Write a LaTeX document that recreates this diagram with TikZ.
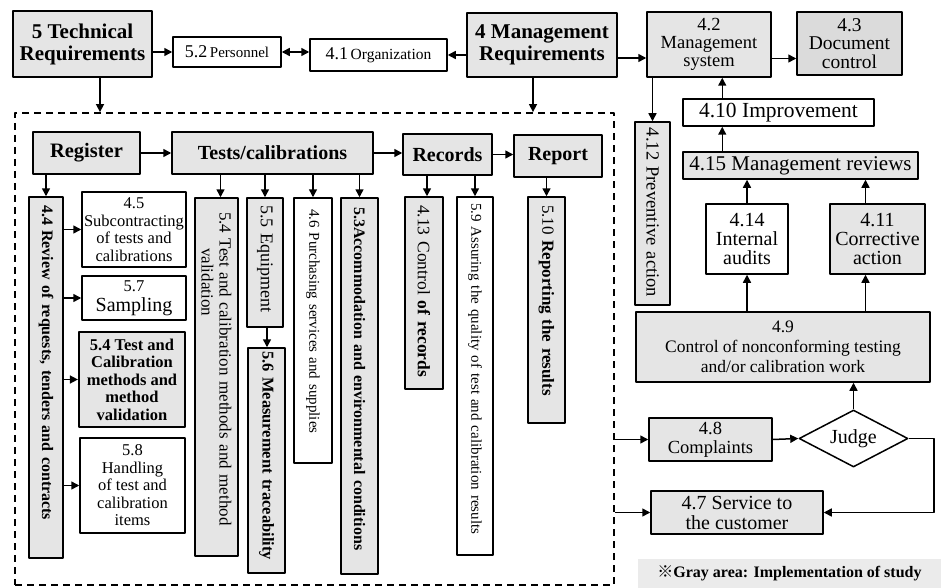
\documentclass[tikz,border=0pt]{standalone}
\usepackage{fontspec}
\setmainfont{Liberation Serif}
\newfontfamily\cjk{Noto Sans CJK SC}
\usetikzlibrary{arrows.meta,shapes.geometric}
\definecolor{boxgray}{gray}{0.9}
\definecolor{docgray}{gray}{0.86}
\definecolor{notegray}{gray}{0.92}
\newcommand{\fsz}[2]{\fontsize{#1}{#2}\selectfont}
\begin{document}
\begin{tikzpicture}[x=1pt,y=-1pt,line join=round,>={Triangle[length=8pt,width=8pt]},
	box/.style={draw,line width=1.5pt,inner sep=1pt,align=center},
	gbox/.style={box,fill=boxgray},
	wbox/.style={box,fill=white},
	vbox/.style={rotate=-90,align=left,inner xsep=8pt,inner ysep=1pt},
	link/.style={->,line width=1.5pt}]
	\useasboundingbox (0,0) rectangle (941,588);
	\node[draw,line width=1.8pt,dash pattern=on 7pt off 5pt,minimum width=599pt,minimum height=472pt,inner sep=0pt] (lab) at (314.5,349) {};
	% top row
	\node[gbox,minimum width=139pt,minimum height=66pt,font=\fsz{21}{22}\bfseries] (tech) at (82.5,44) {5 Technical\\Requirements};
	\node[wbox,minimum width=108pt,minimum height=30pt] (pers) at (227,52) {{\fsz{18}{19}5.2} {\fsz{15}{16}Personnel}};
	\node[wbox,minimum width=137pt,minimum height=32pt] (org) at (378.5,55) {{\fsz{18}{19}4.1} {\fsz{15.5}{16}Organization}};
	\node[gbox,minimum width=150pt,minimum height=64pt,font=\fsz{21}{22}\bfseries] (mgmt) at (542,45) {4 Management\\Requirements};
	\node[gbox,minimum width=124pt,minimum height=65pt,font=\fsz{18.5}{18}] (msys) at (709,44.5) {4.2\\Management\\system};
	\node[box,fill=docgray,minimum width=105pt,minimum height=63pt,font=\fsz{19.5}{18.5}] (doc) at (849.5,43.5) {4.3\\Document\\control};
	% management side
	\node[wbox,minimum width=191pt,minimum height=27pt,font=\fsz{21.5}{21}] (impr) at (778.5,112.5) {4.10 Improvement};
	\node[gbox,vbox,inner xsep=6pt,minimum width=183pt,minimum height=35pt,text width=171pt,font=\fsz{18.5}{19}] (prev) at (652.5,213.5) {4.12 Preventive action};
	\node[gbox,minimum width=235pt,minimum height=27pt,font=\fsz{21}{21}] (mrev) at (800.5,165.5) {4.15 Management reviews};
	\node[wbox,minimum width=82pt,minimum height=70pt,font=\fsz{20}{19}] (audit) at (747,239) {4.14\\Internal\\audits};
	\node[gbox,minimum width=95pt,minimum height=70pt,font=\fsz{20}{19}] (corr) at (877.5,239) {4.11\\Corrective\\action};
	\node[gbox,minimum width=294pt,minimum height=70pt,font=\fsz{17.5}{20}] (ncw) at (783,347) {4.9\\Control of nonconforming testing\\and/or calibration work};
	\node[gbox,minimum width=123pt,minimum height=43pt,font=\fsz{18.5}{19}] (compl) at (710.5,439.5) {4.8\\Complaints};
	\node[draw,line width=1.5pt,fill=white,diamond,aspect=1.9,inner sep=0pt,minimum width=109pt,minimum height=57pt,font=\fsz{20}{20}] (judge) at (853.5,438.5) {Judge};
	\node[gbox,minimum width=172pt,minimum height=43pt,font=\fsz{20}{20}] (serv) at (737,512.5) {4.7 Service to\\the customer};
	\node[fill=notegray,minimum width=303pt,minimum height=29pt,inner sep=0pt,font=\fsz{16}{16}\bfseries] (note) at (789.5,573.5) {{\cjk ※}Gray area: Implementation of study};
	% laboratory flow
	\node[gbox,minimum width=107pt,minimum height=42pt,font=\fsz{20.5}{21}\bfseries] (reg) at (86.5,153) {Register};
	\node[gbox,minimum width=201pt,minimum height=42pt,font=\fsz{20}{21}\bfseries] (tests) at (272.5,153) {Tests/calibrations};
	\node[gbox,minimum width=89pt,minimum height=41pt,font=\fsz{20}{21}\bfseries] (rec) at (447.5,154.5) {Records};
	\node[gbox,minimum width=88pt,minimum height=42pt,font=\fsz{20}{21}\bfseries] (rep) at (558,156) {Report};
	\node[gbox,vbox,minimum width=361pt,minimum height=34pt,text width=345pt,font=\fsz{16}{17}\bfseries] (rev) at (46,377.5) {4.4 Review of requests, tenders and contracts};
	\node[wbox,minimum width=104pt,minimum height=75pt,font=\fsz{16.5}{17.5}] (sub) at (134,229.5) {4.5\\Subcontracting\\of tests and\\calibrations};
	\node[wbox,minimum width=104pt,minimum height=44pt,font=\fsz{20}{20}] (samp) at (134,298) {{\fsz{16.5}{17}5.7}\\Sampling};
	\node[gbox,line width=2.2pt,minimum width=106pt,minimum height=95pt,font=\fsz{16.5}{17.5}\bfseries] (meth) at (132,379.5) {5.4 Test and\\Calibration\\methods and\\method\\validation};
	\node[wbox,minimum width=105pt,minimum height=95pt,font=\fsz{16.5}{17.5}] (hand) at (132.5,485.5) {5.8\\Handling\\of test and\\calibration\\items};
	\node[gbox,vbox,inner xsep=14pt,minimum width=358pt,minimum height=43pt,text width=330pt,font=\fsz{17}{18}] (tcm) at (216.5,377) {5.4 Test and calibration methods and method\\\makebox[330pt][l]{\hspace{36pt}validation}};
	\node[gbox,vbox,inner xsep=7pt,minimum width=129pt,minimum height=36pt,text width=115pt,font=\fsz{18}{19}] (equip) at (265,262.5) {5.5 Equipment};
	\node[gbox,vbox,inner xsep=3pt,minimum width=225pt,minimum height=37pt,text width=219pt,font=\fsz{16.5}{17}\bfseries] (trace) at (266.5,460.5) {5.6 Measurement traceability};
	\node[wbox,vbox,inner xsep=11pt,minimum width=265pt,minimum height=38pt,text width=243pt,font=\fsz{15}{16}] (purch) at (313,330.5) {4.6 Purchasing services and supplies};
	\node[gbox,vbox,inner xsep=9pt,minimum width=376pt,minimum height=37pt,text width=358pt,font=\fsz{16}{17}\bfseries] (accom) at (359.5,386) {5.3Accommodation and environmental conditions};
	\node[gbox,vbox,minimum width=192pt,minimum height=38pt,text width=176pt,font=\fsz{17.5}{18}] (ctrl) at (424,293) {4.13 Control \textbf{of records}};
	\node[wbox,vbox,inner xsep=6pt,minimum width=358pt,minimum height=36pt,text width=346pt,font=\fsz{15}{16}] (qual) at (475,376) {5.9 Assuring the quality of test and calibration results};
	\node[gbox,vbox,minimum width=226pt,minimum height=37pt,text width=210pt,font=\fsz{17}{18}] (rpt) at (546.5,310) {5.10 \textbf{Reporting the results}};
	% connectors
	\draw[link] (tech.east |- pers.west) -- (pers.west);
	\draw[<->,line width=1.5pt] (pers.east) -- (pers.east -| org.west);
	\draw[link] (mgmt.west |- org.east) -- (org.east);
	\draw[link] ([yshift=-13pt]mgmt.east) -- ([yshift=-13pt]mgmt.east -| msys.west);
	\draw[link] ([yshift=-14pt]msys.east) -- ([yshift=-14pt]msys.east -| doc.west);
	\draw[link] ([xshift=17.5pt]tech.south) -- ([xshift=17.5pt]tech.south |- lab.north);
	\draw[link] ([xshift=-9pt]mgmt.south) -- ([xshift=-9pt]mgmt.south |- lab.north);
	\draw[link] (prev.west |- msys.south) -- (prev.west);
	\draw[link] ([xshift=40pt]impr.north west) -- ([xshift=40pt]impr.north west |- msys.south);
	\draw[link] ([xshift=40pt]mrev.north west) -- ([xshift=40pt]mrev.north west |- impr.south);
	\draw[link] (audit.north) -- (audit.north |- mrev.south);
	\draw[link] ([xshift=-12pt]corr.north) -- ([xshift=-12pt]corr.north |- mrev.south);
	\draw[link] (audit.south |- ncw.north) -- (audit.south);
	\draw[link] ([xshift=-12pt]corr.south |- ncw.north) -- ([xshift=-12pt]corr.south);
	\draw[link] (judge.north) -- (judge.north |- ncw.south);
	\draw[link] (compl.east) -- (judge.west);
	\draw[link] (judge.east) -- ++(25,0) |- (serv.east);
	\draw[link] (lab.east |- compl.west) -- (compl.west);
	\draw[link] (lab.east |- serv.west) -- (serv.west);
	\draw[link] (reg.east) -- (tests.west);
	\draw[link] (tests.east) -- (tests.east -| rec.west);
	\draw[link] (rec.east) -- (rec.east -| rep.west);
	\draw[link] (rev.west |- reg.south) -- (rev.west);
	\draw[link] (rev.north |- sub.west) -- (sub.west);
	\draw[link] (rev.north |- samp.west) -- (samp.west);
	\draw[link] (rev.north |- meth.west) -- (meth.west);
	\draw[link] (rev.north |- hand.west) -- (hand.west);
	\draw[link] ([xshift=4pt]tcm.west |- tests.south) -- ([xshift=4pt]tcm.west);
	\draw[link] (equip.west |- tests.south) -- (equip.west);
	\draw[link] (purch.west |- tests.south) -- (purch.west);
	\draw[link] (accom.west |- tests.south) -- (accom.west);
	\draw[link] ([xshift=2pt]equip.east) -- ([xshift=2pt]equip.east |- trace.west);
	\draw[link] ([xshift=3pt]ctrl.west |- rec.south) -- ([xshift=3pt]ctrl.west);
	\draw[link] (qual.west |- rec.south) -- (qual.west);
	\draw[link] (rpt.west |- rep.south) -- (rpt.west);
\end{tikzpicture}
\end{document}
